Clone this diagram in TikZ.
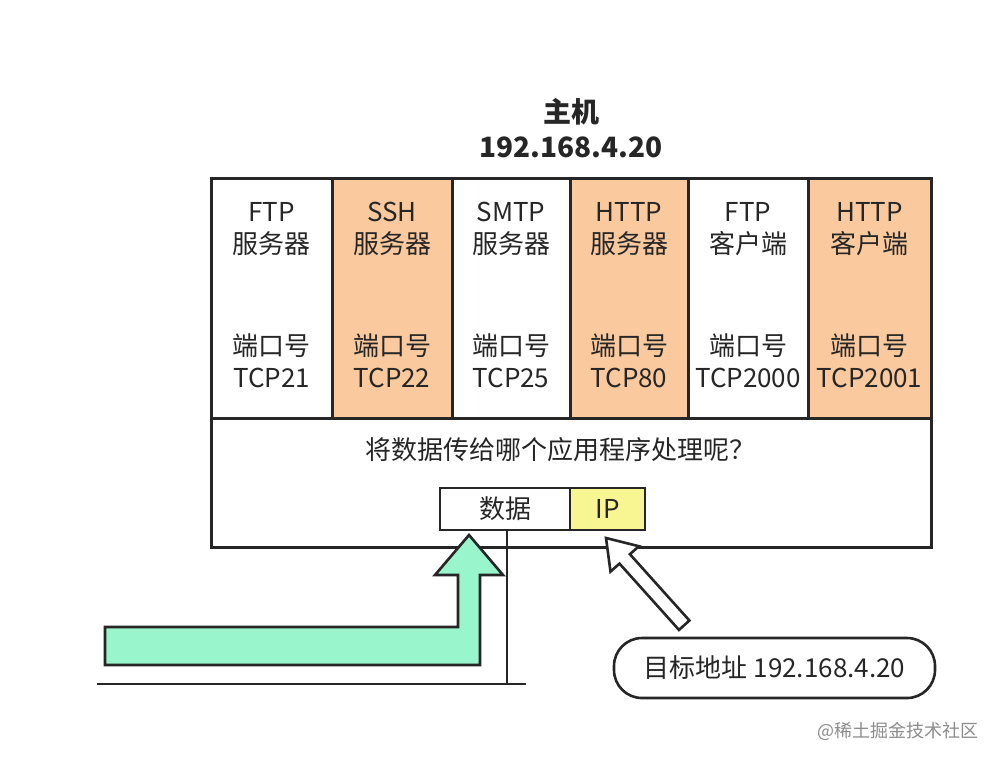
\documentclass[tikz,border=0pt]{standalone}
\usepackage{fontspec}
\newfontfamily\cjk{Noto Sans CJK SC}
\definecolor{peach}{RGB}{250,202,158}
\definecolor{mint}{RGB}{153,245,204}
\definecolor{ipyellow}{RGB}{248,246,146}
\begin{document}
\begin{tikzpicture}[x=0.5pt,y=-0.5pt,
  every node/.style={font=\cjk\fontsize{13}{16}\selectfont, text=black!85},
  colbox/.style={draw=black!85, line width=1.5pt},
  lbl/.style={align=center, inner sep=0pt},
  thick line/.style={draw=black!85, line width=1.3pt}]
\useasboundingbox (0,0) rectangle (1000,762);
\fill[white] (0,0) rectangle (1000,762);
% title
\node[lbl, font=\cjk\bfseries\fontsize{14}{17}\selectfont] (title) at (571,112) {主机};
\node[lbl, font=\cjk\bfseries\fontsize{14}{17}\selectfont] (hostip) at (571,147) {192.168.4.20};
% columns
\foreach \xa/\xb/\fc/\na/\nb/\port [count=\i] in {
  211/332/white/FTP/服务器/TCP21,
  332/452/peach/SSH/服务器/TCP22,
  452/570/white/SMTP/服务器/TCP25,
  570/688/peach/HTTP/服务器/TCP80,
  688/808/white/FTP/客户端/TCP2000,
  808/931/peach/HTTP/客户端/TCP2001}{
  \path[colbox, fill=\fc] (\xa,178) rectangle (\xb,418);
  \node[lbl] (app\i) at ({(\xa+\xb)/2},229) {\na\\\nb};
  \node[lbl] (port\i) at ({(\xa+\xb)/2},361) {端口号\\\port};
}
% lower panel
\path[colbox] (211,418) rectangle (931,547);
\node[lbl] (question) at (560,450) {将数据传给哪个应用程序处理呢？};
% packet
\node[draw=black!85, line width=1.3pt, fill=white, minimum width=65pt, minimum height=21pt, inner sep=0pt] (data) at (505,509) {数据};
\node[draw=black!85, line width=1.3pt, fill=ipyellow, minimum width=37.5pt, minimum height=21pt, inner sep=0pt] (ip) at (607.5,509) {IP};
% bottom line and vertical line
\coordinate (bl) at (97,684);
\coordinate (br) at (526,684);
\coordinate (vb) at (507,684);
\draw[thick line] (bl) -- (br);
\draw[thick line] (data.south -| vb) -- (vb);
% green arrow
\draw[draw=black!85, line width=1.3pt, fill=mint, line join=miter]
  (105,627) -- (458,627) -- (458,575) -- (435,575) -- (469,535) -- (503,575)
  -- (480,575) -- (480,665) -- (105,665) -- cycle;
% target label
\node[draw=black!85, line width=1.3pt, rounded corners=14pt, minimum width=160.5pt, minimum height=30pt, inner sep=0pt] (target) at (774.5,668) {目标地址 192.168.4.20};
% white arrow from target to IP
\draw[draw=black!85, line width=1.3pt, fill=white, line join=miter]
  (606,538) -- (638.9,546.2) -- (629.9,554.2) -- (689.4,620.5) -- (679.0,629.9)
  -- (619.5,563.6) -- (610.5,571.6) -- cycle;
% watermark
\node[font=\cjk\fontsize{9}{11}\selectfont, text=black!45] (wm) at (898,731) {@稀土掘金技术社区};
\end{tikzpicture}
\end{document}
